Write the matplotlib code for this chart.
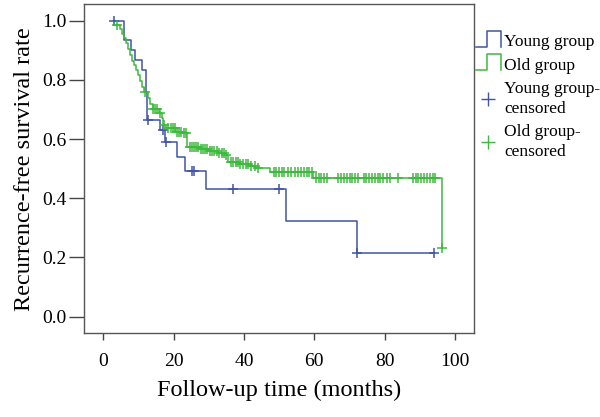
import numpy as np
import matplotlib as mpl
mpl.use('Agg')
import matplotlib.pyplot as plt
from matplotlib.lines import Line2D
from matplotlib.legend_handler import HandlerBase
from matplotlib.ticker import FormatStrFormatter

mpl.rcParams.update({
    'font.family': ['Liberation Serif', 'DejaVu Serif'],
    'font.size': 14,
})

# Kaplan-Meier steps (time in months, survival after step)
young_times = [3.0, 6.0, 8.0, 9.0, 11.0, 12.0, 12.5, 16.1, 17.5, 20.9, 23.2,
               29.2, 52.0, 72.0]
young_surv = [1.0, 0.934, 0.900, 0.867, 0.833, 0.760, 0.664, 0.631, 0.591,
              0.540, 0.492, 0.431, 0.323, 0.214]
young_cens = [3.0, 12.7, 16.9, 17.8, 25.1, 25.8, 37.0, 50.0, 72.0, 94.1]

old_times = [3.3, 4.6, 5.2, 5.8, 6.4, 7.0, 7.6, 8.2, 8.8, 9.4, 9.9, 10.4,
             10.9, 11.5, 12.6, 13.4, 14.0, 15.8, 16.6, 17.0, 17.8, 20.5, 22.5,
             23.9, 27.5, 30.0, 32.5, 34.5, 35.5, 38.5, 41.5, 43.5, 47.4, 59.7,
             96.2]
old_surv = [0.985, 0.970, 0.955, 0.940, 0.925, 0.905, 0.885, 0.865, 0.850,
            0.833, 0.815, 0.797, 0.777, 0.760, 0.738, 0.717, 0.700, 0.687,
            0.670, 0.648, 0.636, 0.624, 0.619, 0.574, 0.565, 0.558, 0.552,
            0.546, 0.524, 0.517, 0.510, 0.502, 0.488, 0.467, 0.231]
old_cens = [3.9, 11.9, 14.2, 14.6, 15.2, 16.1, 17.3, 18.5, 19.2, 19.8, 20.4,
            21.0, 21.6, 22.2, 22.8, 23.4, 24.5, 25.2, 25.8, 26.4, 27.0, 27.8,
            28.4, 29.0, 29.6, 30.4, 31.0, 31.6, 32.2, 33.0, 33.6, 34.2, 35.0,
            36.3, 37.0, 37.6, 38.2, 39.0, 39.8, 40.5, 41.2, 42.0, 43.0, 44.0,
            48.5, 49.2, 50.0, 50.8, 51.5, 52.5, 53.4, 54.6, 55.4, 56.2, 57.0,
            57.8, 58.6, 59.3, 60.4, 61.2, 62.0, 62.8, 63.7, 66.8, 67.6, 68.4,
            69.2, 70.0, 70.8, 71.6, 72.4, 74.0, 74.8, 75.6, 76.4, 77.2, 78.0,
            78.8, 79.6, 80.6, 81.5, 83.8, 88.0, 88.8, 89.6, 90.4, 91.2, 92.0,
            92.8, 93.6, 94.3, 96.2]

BLUE = '#4153a6'
GREEN = '#3dba3d'


def km_curve(ax, times, surv, cens, color):
    t = np.array(times + [max(cens)])
    s = np.array(surv + [surv[-1]])
    ax.step(t, s, where='post', color=color, lw=1.1, zorder=2)
    idx = np.searchsorted(np.array(times), cens, side='right') - 1
    ax.plot(cens, np.array(surv)[idx], '+', color=color, ms=6.5, mew=1.1,
            zorder=3)


class StepHandler(HandlerBase):
    def create_artists(self, legend, orig_handle, xdescent, ydescent,
                       width, height, fontsize, trans):
        lo = -ydescent - 0.05 * height
        hi = -ydescent + 1.3 * height
        xs = np.array([0, 0.45, 0.45, 1.0, 1.0]) * width - xdescent
        ys = [lo, lo, hi, hi, lo]
        ln = Line2D(xs, ys, color=orig_handle.get_color(), lw=1.1,
                    transform=trans)
        return [ln]


fig = plt.figure(figsize=(6.0, 4.17), dpi=100)
ax = fig.add_axes([0.14, 0.2007, 0.65, 0.7897])

km_curve(ax, young_times, young_surv, young_cens, BLUE)
km_curve(ax, old_times, old_surv, old_cens, GREEN)

ax.set_xlim(-5.5, 105.4)
ax.set_ylim(-0.056, 1.056)
ax.set_xticks(np.arange(0, 101, 20))
ax.set_yticks(np.arange(0, 1.01, 0.2))
ax.yaxis.set_major_formatter(FormatStrFormatter('%.1f'))
ax.tick_params(direction='out', width=1, color='#444444', labelsize=14)
ax.tick_params(axis='x', length=5, pad=9)
ax.tick_params(axis='y', length=10.5, pad=2)
for sp in ax.spines.values():
    sp.set_color('#555555')
    sp.set_linewidth(1.0)

ax.set_xlabel('Follow-up time (months)', fontsize=17.5, labelpad=7)
ax.set_ylabel('Recurrence-free survival rate', fontsize=17.5, labelpad=5)

h_young = Line2D([], [], color=BLUE)
h_old = Line2D([], [], color=GREEN)
h_yc = Line2D([], [], color=BLUE, marker='+', ls='none', ms=10, mew=1.0)
h_oc = Line2D([], [], color=GREEN, marker='+', ls='none', ms=10, mew=1.0)

leg = fig.legend([h_young, h_old, h_yc, h_oc],
                 ['Young group', 'Old group', 'Young group-\ncensored',
                  'Old group-\ncensored'],
                 handler_map={h_young: StepHandler(), h_old: StepHandler()},
                 loc='upper left', bbox_to_anchor=(0.793, 0.918),
                 frameon=False, fontsize=12.5, handlelength=1.45,
                 handletextpad=0.2, borderpad=0, borderaxespad=0,
                 labelspacing=0.42)
for txt in leg.get_texts():
    txt.set_linespacing(1.3)

fig.savefig('out.png', dpi=100)
